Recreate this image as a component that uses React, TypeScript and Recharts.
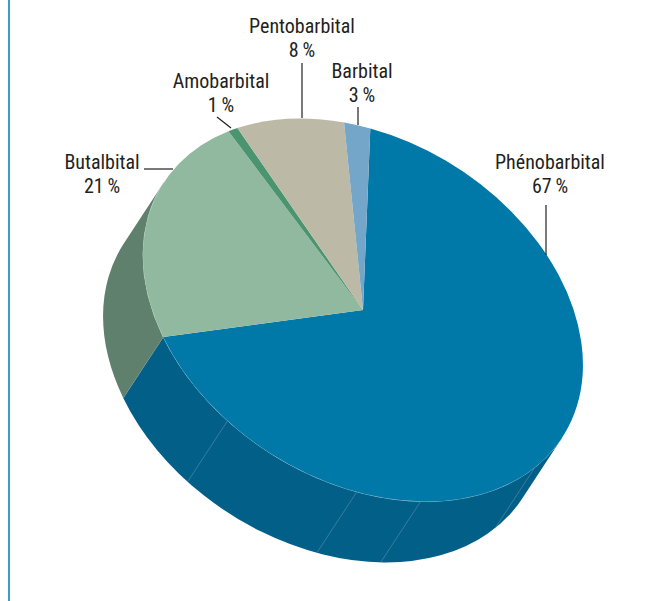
import { PieChart, Pie, Cell, Sector } from "recharts";

const DRUGS = ["Phénobarbital", "Butalbital", "Amobarbital", "Pentobarbital", "Barbital"];
// printed percentages
const SHARES = [67, 21, 1, 8, 3];
// slice sizes as measured on the picture: the drawn wedges differ a little from the printed figures
const DRAWN_SIZES = [67.6, 21.4, 0.8, 8.3, 1.9];
const TOP_COLORS = ["#0078a8", "#91b9a0", "#4a9470", "#bcbaa7", "#74a6c9"];
const WALL_COLORS = ["#025f88", "#60806e", "#3d7459", "#8f8d7c", "#55809f"];
const RIM_COLORS = ["#8fc0d6", "#bcd4c5", "none", "none", "none"];
// angles (deg) where the facets of the side wall meet
const WALL_SEAMS = [-103.7, -67.3, -50.5, -14.2];

const pieData = DRUGS.map((name, i) => ({ name, value: DRAWN_SIZES[i], share: SHARES[i] }));

// the flat pie is squashed and turned to look like a tilted disc
const CX = 363;
const CY = 310;
const R = 100;
const RX = 236.5;
const RY = 170.6;
const TILT = 32.05;
const DEPTH_X = -40;
const DEPTH_Y = 61;
const START_ANGLE = 112.4;

const FONT = "'Liberation Sans Narrow', 'Roboto Condensed', 'Liberation Sans', sans-serif";

// label anchors and leader lines: [labelX, firstBaseline, x1, y1, x2, y2]
const LABEL_SPOTS = [
  [550, 169, 546, 205, 546, 255],
  [102, 169, 144, 169, 173, 169],
  [221, 88, 217, 117, 231, 128],
  [302, 33, 302, 63, 302, 118],
  [362, 78, 358, 107, 358, 125],
];

const cosT = Math.cos((TILT * Math.PI) / 180);
const sinT = Math.sin((TILT * Math.PI) / 180);

// where the rim runs parallel to the extrusion: only the wall between these two angles shows
const depthU = (DEPTH_X * cosT + DEPTH_Y * sinT) / RX;
const depthV = (-DEPTH_X * sinT + DEPTH_Y * cosT) / RY;
const WALL_FROM = (-Math.atan2(-depthU, depthV) * 180) / Math.PI;
const WALL_TO = WALL_FROM - 180;

function rimPoint(angle: number, dx = 0, dy = 0) {
  const t = (-angle * Math.PI) / 180;
  const u = RX * Math.cos(t);
  const v = RY * Math.sin(t);
  return [CX + u * cosT - v * sinT + dx, CY + u * sinT + v * cosT + dy];
}

function TopSlice(props: any) {
  const { cx, cy, outerRadius, startAngle, endAngle, fill } = props;
  const a = (RX / outerRadius) * cosT;
  const b = (RX / outerRadius) * sinT;
  const c = -(RY / outerRadius) * sinT;
  const d = (RY / outerRadius) * cosT;
  return (
    <g transform={`translate(${cx} ${cy}) matrix(${a} ${b} ${c} ${d} 0 0) translate(${-cx} ${-cy})`}>
      <Sector cx={cx} cy={cy} innerRadius={0} outerRadius={outerRadius} startAngle={startAngle} endAngle={endAngle} fill={fill} stroke="none" />
    </g>
  );
}

function WallSlice(props: any) {
  const { startAngle, endAngle, fill, index } = props;
  const from = Math.min(startAngle, WALL_FROM);
  const to = Math.max(endAngle, WALL_TO);
  if (from <= to) return <g />;
  const [x1, y1] = rimPoint(from);
  const [x2, y2] = rimPoint(to);
  const [x3, y3] = rimPoint(to, DEPTH_X, DEPTH_Y);
  const [x4, y4] = rimPoint(from, DEPTH_X, DEPTH_Y);
  const path = `M${x1} ${y1} A${RX} ${RY} ${TILT} 0 1 ${x2} ${y2} L${x3} ${y3} A${RX} ${RY} ${TILT} 0 0 ${x4} ${y4} Z`;
  const rim = `M${x1} ${y1} A${RX} ${RY} ${TILT} 0 1 ${x2} ${y2}`;
  return (
    <g>
      <path d={path} fill={fill} stroke="none" />
      <path d={rim} fill="none" stroke={RIM_COLORS[index]} strokeWidth={1} />
      {index === 0 &&
        WALL_SEAMS.map((seam) => {
          const [sx, sy] = rimPoint(seam);
          const [ex, ey] = rimPoint(seam, DEPTH_X, DEPTH_Y);
          return <line key={seam} x1={sx} y1={sy} x2={ex} y2={ey} stroke="#5a92ab" strokeWidth={0.6} />;
        })}
      {index === 0 && <line x1={x2} y1={y2} x2={x3} y2={y3} stroke="#9db5a8" strokeWidth={0.6} />}
    </g>
  );
}

function SliceLabel(props: any) {
  const { index, name } = props;
  const [tx, ty, x1, y1, x2, y2] = LABEL_SPOTS[index];
  return (
    <g>
      <text x={tx} y={ty} textAnchor="middle" fontFamily={FONT} fontSize={20} fill="#231f20">
        {name}
      </text>
      <text x={tx} y={ty + 24} textAnchor="middle" fontFamily={FONT} fontSize={20} fill="#231f20">
        {`${SHARES[index]}\u2009%`}
      </text>
      <line x1={x1} y1={y1} x2={x2} y2={y2} stroke="#231f20" strokeWidth={1.2} />
    </g>
  );
}

export default function App() {
  return (
    <div style={{ position: "absolute", left: 0, top: 0, width: 669, height: 601, background: "#fff", overflow: "hidden" }}>
      <div style={{ position: "absolute", left: 8, top: 0, width: 2, height: 601, background: "#3d9dc4" }} />
      <PieChart width={669} height={601} margin={{ top: 0, right: 0, bottom: 0, left: 0 }}>
        <Pie
          data={pieData}
          dataKey="value"
          nameKey="name"
          cx={CX}
          cy={CY}
          outerRadius={R}
          startAngle={START_ANGLE}
          endAngle={START_ANGLE - 360}
          stroke="none"
          shape={WallSlice}
          isAnimationActive={false}
        >
          {pieData.map((d, i) => (
            <Cell key={d.name} fill={WALL_COLORS[i]} />
          ))}
        </Pie>
        <Pie
          data={pieData}
          dataKey="value"
          nameKey="name"
          cx={CX}
          cy={CY}
          outerRadius={R}
          startAngle={START_ANGLE}
          endAngle={START_ANGLE - 360}
          stroke="none"
          shape={TopSlice}
          label={SliceLabel}
          labelLine={false}
          isAnimationActive={false}
        >
          {pieData.map((d, i) => (
            <Cell key={d.name} fill={TOP_COLORS[i]} />
          ))}
        </Pie>
      </PieChart>
    </div>
  );
}
